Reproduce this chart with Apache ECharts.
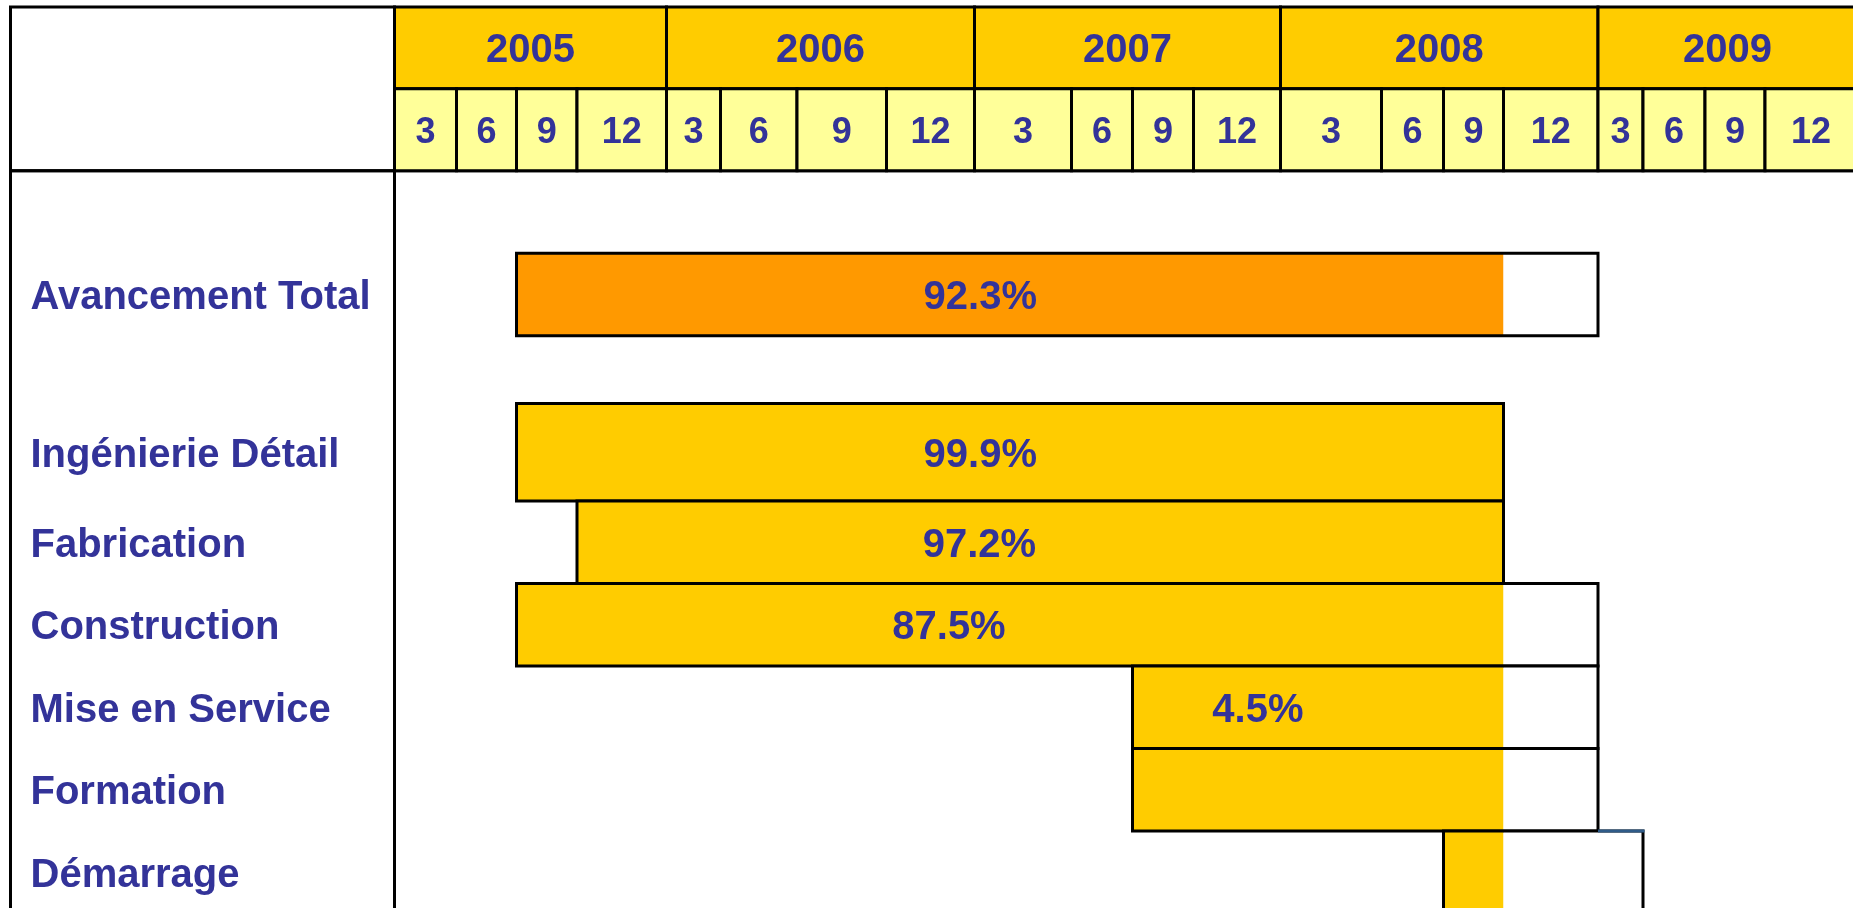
<!DOCTYPE html>
<html>
<head>
<meta charset="utf-8">
<style>
    html, body { margin: 0; padding: 0; background: #fff; }
    #chart { width: 1853px; height: 908px; }
</style>
<script src="https://cdn.jsdelivr.net/npm/echarts@6/dist/echarts.min.js"></script>
</head>
<body>
<div id="chart"></div>
<script>
// planning data
var years = ['2005', '2006', '2007', '2008', '2009'];
var months = ['3', '6', '9', '12'];
var tasks = ['Avancement Total', 'Ingénierie Détail', 'Fabrication', 'Construction', 'Mise en Service', 'Formation', 'Démarrage'];
// start / end as quarter index from jan 2005 (2 = end of june 2005)
var startQ = [2, 2, 3, 2, 10, 10, 14];
var endQ = [16, 15, 15, 16, 16, 16, 17];
var statusQ = 15; // end of sept 2008
var progress = [92.3, 99.9, 97.2, 87.5, 4.5, null, null];

// layout of the slide: header columns are not even
var quarterW = [62, 60, 60.5, 89.5, 54, 76.5, 89.5, 88, 97, 61, 61, 87, 101, 62, 60, 94.5, 45, 62, 60, 92];
var rowSlot = [1, 3, 4, 5, 6, 7, 8];
var extraTop = [0, 0.18, 0, 0, 0, 0, 0];
var labelQ = [8.06, 8.06, 8.05, 7.71, 11.74];

var FONT = "'Liberation Sans', Arial, sans-serif";
var BLUE = '#333399';
var TXT_DY = 3.5; // caps sit a bit lower than the em box middle

function qx(q) {
    var s = 0, i = 0;
    for (; i < Math.floor(q) && i < quarterW.length; i++) s += quarterW[i];
    if (i < quarterW.length) s += (q - i) * quarterW[i];
    return s;
}
var totalW = qx(quarterW.length);

var rows = [];
for (var k = 0; k < 9; k++) rows.push(new Array(k + 1).join(' '));
rowSlot.forEach(function (s, i) { rows[s] = tasks[i]; });

var barData = tasks.map(function (t, i) {
    return [qx(startQ[i]), qx(endQ[i]), qx(Math.min(statusQ, endQ[i])), rowSlot[i]];
});

var headData = [];
years.forEach(function (y, i) {
    headData.push([qx(i * 4), qx(i * 4 + 4), 0]);
});
years.forEach(function (y, i) {
    months.forEach(function (m, j) {
        var q = i * 4 + j;
        headData.push([qx(q), qx(q + 1), 1]);
    });
});

function headText(idx) {
    if (idx < years.length) return years[idx];
    return months[(idx - years.length) % 4];
}

var chart = echarts.init(document.getElementById('chart'));
var option = {
    animation: false,
    grid: [
        {left: 394.5, top: 170.7, right: -4, bottom: -5.65, show: true, borderColor: '#000', borderWidth: 3, backgroundColor: 'transparent', outerBoundsMode: 'none'},
        {left: 394.5, top: 7, right: -4, height: 163.7, outerBoundsMode: 'none'},
        {left: 10.5, top: 7, width: 384, height: 163.7, show: true, borderColor: '#000', borderWidth: 3, backgroundColor: 'transparent', outerBoundsMode: 'none'},
        {left: 10.5, top: 170.7, width: 384, bottom: -10, show: true, borderColor: '#000', borderWidth: 3, backgroundColor: 'transparent', outerBoundsMode: 'none'}
    ],
    xAxis: [
        {gridIndex: 0, type: 'value', min: 0, max: totalW, show: false},
        {gridIndex: 1, type: 'value', min: 0, max: totalW, show: false},
        {gridIndex: 2, type: 'value', show: false},
        {gridIndex: 3, type: 'value', show: false}
    ],
    yAxis: [
        {
            gridIndex: 0,
            type: 'category',
            data: rows,
            inverse: true,
            axisLine: {show: false},
            axisTick: {show: false},
            splitLine: {show: false},
            axisLabel: {
                interval: 0,
                align: 'left',
                margin: 364,
                formatter: function (v) {
                    return v === tasks[1] ? '{up|' + v + '}' : '{n|' + v + '}';
                },
                rich: {
                    n: {color: BLUE, fontSize: 40, fontWeight: 'bold', fontFamily: FONT, padding: [TXT_DY * 2, 0, 0, 0]},
                    up: {color: BLUE, fontSize: 40, fontWeight: 'bold', fontFamily: FONT, padding: [0, 0, 7, 0]}
                }
            }
        },
        {gridIndex: 1, type: 'category', data: ['year', 'quarter'], inverse: true, show: false},
        {gridIndex: 2, type: 'value', show: false},
        {gridIndex: 3, type: 'value', show: false}
    ],
    series: [
        {
            // header: years and quarters
            type: 'custom',
            xAxisIndex: 1,
            yAxisIndex: 1,
            clip: false,
            data: headData,
            renderItem: function (params, api) {
                var a = api.coord([api.value(0), api.value(2)]);
                var b = api.coord([api.value(1), api.value(2)]);
                var h = api.size([0, 1])[1];
                var isYear = api.value(2) === 0;
                return {
                    type: 'group',
                    children: [
                        {type: 'rect', shape: {x: a[0], y: a[1] - h / 2, width: b[0] - a[0], height: h},
                            style: {fill: isYear ? '#FFCC00' : '#FFFF99', stroke: '#000', lineWidth: 3}},
                        {type: 'text', style: {text: headText(params.dataIndex), x: (a[0] + b[0]) / 2, y: a[1] + TXT_DY,
                            align: 'center', verticalAlign: 'middle', fill: BLUE,
                            fontSize: isYear ? 40 : 36, fontWeight: 'bold', fontFamily: FONT}}
                    ]
                };
            }
        },
        {
            // task bars, filled up to the status date
            type: 'custom',
            xAxisIndex: 0,
            yAxisIndex: 0,
            clip: false,
            data: barData,
            renderItem: function (params, api) {
                var i = params.dataIndex;
                var a = api.coord([api.value(0), api.value(3)]);
                var b = api.coord([api.value(1), api.value(3)]);
                var f = api.coord([api.value(2), api.value(3)]);
                var h = api.size([0, 1])[1];
                var top = a[1] - h / 2 - extraTop[i] * h;
                var hh = h * (1 + extraTop[i]);
                var kids = [
                    {type: 'rect', shape: {x: a[0], y: top, width: f[0] - a[0], height: hh},
                        style: {fill: i === 0 ? '#FF9900' : '#FFCC00'}}
                ];
                if (b[0] > f[0]) {
                    kids.push({type: 'rect', shape: {x: f[0], y: top, width: b[0] - f[0], height: hh}, style: {fill: '#fff'}});
                }
                kids.push({type: 'rect', shape: {x: a[0], y: top, width: b[0] - a[0], height: hh},
                    style: {fill: 'none', stroke: '#000', lineWidth: 3}});
                if (i === tasks.length - 1) {
                    // top edge past the row above is a blue-grey line on the slide
                    var px = api.coord([qx(endQ[i - 1]), api.value(3)])[0];
                    kids.push({type: 'line', shape: {x1: px, y1: top, x2: b[0] + 1.5, y2: top},
                        style: {stroke: '#2F5B88', lineWidth: 3}});
                }
                if (progress[i] != null) {
                    kids.push({type: 'text', style: {
                        text: progress[i].toFixed(1) + '%',
                        x: api.coord([qx(labelQ[i]), api.value(3)])[0],
                        y: top + hh / 2 + TXT_DY,
                        align: 'center', verticalAlign: 'middle', fill: BLUE,
                        fontSize: 40, fontWeight: 'bold', fontFamily: FONT
                    }});
                }
                return {type: 'group', children: kids};
            }
        }
    ]
};
chart.setOption(option);
</script>
</body>
</html>
